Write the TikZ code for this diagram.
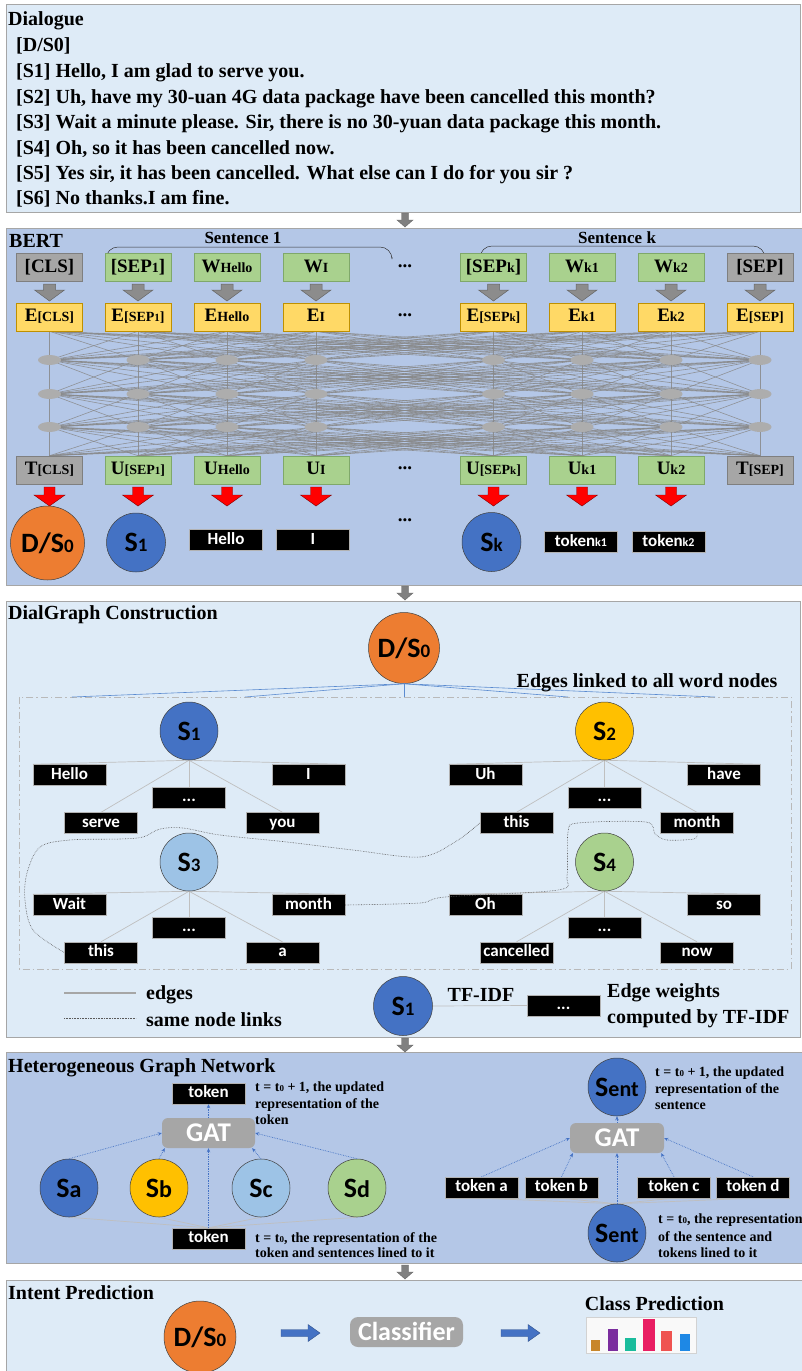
\documentclass[tikz,border=0pt]{standalone}
\usepackage{fontspec}
\setmainfont{Liberation Serif}
\newfontfamily\calib{Carlito}
\usetikzlibrary{arrows.meta,shapes.geometric}
\pgfdeclarelayer{panels}
\pgfdeclarelayer{bg}
\pgfsetlayers{panels,bg,main}
\definecolor{panelL}{HTML}{DEEBF7}
\definecolor{panelD}{HTML}{B4C7E7}
\definecolor{pborder}{HTML}{A6A6A6}
\definecolor{boxgray}{HTML}{A6A6A6}
\definecolor{boxgrayb}{HTML}{7F7F7F}
\definecolor{boxgreen}{HTML}{A9D18E}
\definecolor{boxgreenb}{HTML}{7FA86A}
\definecolor{boxyellow}{HTML}{FFD966}
\definecolor{boxyellowb}{HTML}{BF9000}
\definecolor{corange}{HTML}{ED7D31}
\definecolor{cblue}{HTML}{4472C4}
\definecolor{cgold}{HTML}{FFC000}
\definecolor{clblue}{HTML}{9DC3E6}
\definecolor{cgreen}{HTML}{A9D18E}
\definecolor{neur}{HTML}{ADADAD}
\definecolor{meshc}{HTML}{888888}
\definecolor{edgec}{HTML}{BFBFBF}
\definecolor{lineblue}{HTML}{5B8BD0}
\definecolor{arrblue}{HTML}{4472C4}
\definecolor{gatc}{HTML}{A6A6A6}
\definecolor{arrgray}{HTML}{8C8C8C}
\definecolor{arrred}{HTML}{FF0000}
\definecolor{barA}{HTML}{C8862A}
\definecolor{barB}{HTML}{7B2D9E}
\definecolor{barC}{HTML}{1ABC9C}
\definecolor{barD}{HTML}{E91E63}
\definecolor{barE}{HTML}{EF5350}
\definecolor{barF}{HTML}{1E88E5}
\newcommand\smf[1]{{\fontsize{14}{14}\selectfont #1}}
\newcommand\ssmf[1]{{\fontsize{11}{11}\selectfont #1}}
\newcommand\kmf[1]{{\fontsize{12}{12}\selectfont #1}}
\newcommand\circtxt[4]{{\fontsize{#3}{#3}\selectfont #1}{\fontsize{#4}{#4}\selectfont #2}}
\newcommand\tsub[1]{{\fontsize{9}{9}\selectfont #1}}
\begin{document}
\begin{tikzpicture}[x=1pt,y=-1pt,
 pL/.style={fill=panelL, draw=pborder, line width=0.8pt},
 pD/.style={fill=panelD, draw=pborder, line width=0.8pt},
 ttl/.style={font=\bfseries\fontsize{20}{24}\selectfont, inner sep=0, anchor=base west},
 dtxt/.style={font=\bfseries\fontsize{20}{24}\selectfont, inner sep=0, anchor=base west},
 lbl/.style={font=\bfseries\fontsize{20}{24}\selectfont, inner sep=0, anchor=base},
 senttxt/.style={font=\bfseries\fontsize{17}{20}\selectfont, inner sep=0, anchor=base},
 notetxt/.style={font=\bfseries\fontsize{14}{16}\selectfont, inner sep=0, anchor=base west},
 bbox/.style={minimum width=66, minimum height=28, inner sep=0, text height=13, text depth=4, font=\bfseries\fontsize{19}{19}\selectfont, line width=0.6pt},
 gbox/.style={bbox, fill=boxgray, draw=boxgrayb},
 grbox/.style={bbox, fill=boxgreen, draw=boxgreenb},
 ybox/.style={bbox, fill=boxyellow, draw=boxyellowb},
 wbox/.style={fill=black, text=white, draw=gray!60, line width=0.4pt, minimum width=73, minimum height=21, inner sep=0, text height=11.5, text depth=3, font={\calib\bfseries\fontsize{17}{17}\selectfont}},
 circ/.style={circle, draw=gray!50!black, line width=0.5pt, inner sep=0, text height=18, text depth=0, font=\calib\bfseries, text=black},
 neuron/.style={ellipse, fill=neur, minimum width=23, minimum height=10, inner sep=0},
 meshline/.style={draw=meshc, line width=0.6pt, opacity=0.85},
 tedge/.style={draw=edgec, line width=0.7pt},
 samelink/.style={draw=gray!70!black, densely dotted, line width=0.6pt},
 blueedge/.style={draw=lineblue, line width=0.6pt},
 dashbox/.style={draw=gray!55, line width=0.8pt, dash pattern=on 7pt off 3pt on 1.5pt off 3pt},
 gatbox/.style={rectangle, rounded corners=6, fill=gatc, text=white, font={\calib\bfseries\fontsize{27}{27}\selectfont}, minimum width=93, minimum height=30, inner sep=0, text height=17.5, text depth=0},
 darr/.style={draw=arrblue, densely dotted, line width=0.7pt, -{Stealth[length=4pt,width=3.5pt]}},
 dotstxt/.style={font=\bfseries\fontsize{19}{19}\selectfont, inner sep=0},
 grayarrow/.pic={\path[fill=arrgray, draw=black!60, line width=0.5pt] (-6,0) -- (6,0) -- (6,6) -- (15,6) -- (0,17) -- (-15,6) -- (-6,6) -- cycle;},
 redarrow/.pic={\path[fill=arrred, draw=red!50!black, line width=0.4pt] (-5.5,0) -- (5.5,0) -- (5.5,8) -- (15.5,8) -- (0,19) -- (-15.5,8) -- (-5.5,8) -- cycle;},
 smallarrow/.pic={\path[fill=gray, draw=black!60, line width=0.4pt] (-3.5,0) -- (3.5,0) -- (3.5,7) -- (8,7) -- (0,14) -- (-8,7) -- (-3.5,7) -- cycle;},
 bluearrow/.pic={\path[fill=cblue, draw=cblue!70!black, line width=0.4pt] (0,-3.5) -- (27,-3.5) -- (27,-8.5) -- (39,0) -- (27,8.5) -- (27,3.5) -- (0,3.5) -- cycle;}
]
\useasboundingbox (0,0) rectangle (802,1371);
\begin{pgfonlayer}{panels}
\fill[white] (0,0) rectangle (802,1371);
\draw[pL] (6,4) rectangle (800,212);
\draw[pD] (6,228) rectangle (803,585);
\draw[pL] (6,601) rectangle (800,1037);
\draw[pD] (6,1052) rectangle (803,1263);
\draw[pL] (6,1280) rectangle (803,1375);
\end{pgfonlayer}
\pic at (405,213) {smallarrow};
\pic at (405,586) {smallarrow};
\pic at (405,1038) {smallarrow};
\pic at (405,1265) {smallarrow};

% ---------------- Dialogue
\node[ttl] (dlgT) at (8,25) {Dialogue};
\node[dtxt] (dl0) at (16,51) {[D/S0]};
\node[dtxt] (dl1) at (16,77) {[S1] Hello, I am glad to serve you.};
\node[dtxt] (dl2) at (16,103) {[S2] Uh, have my 30-uan 4G data package have been cancelled this month?};
\node[dtxt] (dl3) at (16,128) {[S3] Wait a minute please. Sir, there is no 30-yuan data package this month.};
\node[dtxt] (dl4) at (16,154) {[S4] Oh, so it has been cancelled now.};
\node[dtxt] (dl5) at (16,179) {[S5] Yes sir, it has been cancelled. What else can I do for you sir ?};
\node[dtxt] (dl6) at (16,204) {[S6] No thanks.I am fine.};

% ---------------- BERT
\node[ttl] (bertT) at (9,247) {BERT};
\node[senttxt] (sen1) at (243,243) {Sentence 1};
\node[senttxt] (senk) at (617,243) {Sentence k};
\draw[draw=gray!40!black, line width=0.5pt, rounded corners=12] (106,257) -- (106,247) -- (392,247) -- (392,257);
\draw[draw=gray!40!black, line width=0.5pt, rounded corners=12] (480,257) -- (480,246) -- (765,246) -- (765,257);

\node[gbox]  (w1) at (49.5,267.5) {[CLS]};
\node[grbox] (w2) at (138,267.5) {[SEP\smf{1}]};
\node[grbox] (w3) at (227,267.5) {W\smf{Hello}};
\node[grbox] (w4) at (316,267.5) {W\smf{I}};
\node[grbox] (w5) at (493.5,267.5) {[SEP\smf{k}]};
\node[grbox] (w6) at (582,267.5) {W\smf{k1}};
\node[grbox] (w7) at (671,267.5) {W\smf{k2}};
\node[gbox]  (w8) at (760,267.5) {[SEP]};

\node[ybox] (e1) at (49.5,317) {E\smf{[CLS]}};
\node[ybox] (e2) at (138,317) {E\smf{[SEP\ssmf{1}]}};
\node[ybox] (e3) at (227,317) {E\smf{Hello}};
\node[ybox] (e4) at (316,317) {E\smf{I}};
\node[ybox] (e5) at (493.5,317) {E\smf{[SEP\ssmf{k}]}};
\node[ybox] (e6) at (582,317) {E\smf{k1}};
\node[ybox] (e7) at (671,317) {E\smf{k2}};
\node[ybox] (e8) at (760,317) {E\smf{[SEP]}};

\node[gbox]  (t1) at (49.5,470) {T\smf{[CLS]}};
\node[grbox] (t2) at (138,470) {U\smf{[SEP\ssmf{1}]}};
\node[grbox] (t3) at (227,470) {U\smf{Hello}};
\node[grbox] (t4) at (316,470) {U\smf{I}};
\node[grbox] (t5) at (493.5,470) {U\smf{[SEP\ssmf{k}]}};
\node[grbox] (t6) at (582,470) {U\smf{k1}};
\node[grbox] (t7) at (671,470) {U\smf{k2}};
\node[gbox]  (t8) at (760,470) {T\smf{[SEP]}};

\node[dotstxt] (bd1) at (405,266) {...};
\node[dotstxt] (bd2) at (405,315) {...};
\node[dotstxt] (bd3) at (405,468) {...};
\node[dotstxt] (bd4) at (405,520) {...};

\foreach \x in {49.5,138,227,316,493.5,582,671,760} {\pic at (\x,284) {grayarrow};}
\foreach \x in {49.5,138,227,316,493.5,582,671} {\pic at (\x,487) {redarrow};}

\foreach \i/\x in {1/49.5,2/138,3/227,4/316,5/493.5,6/582,7/671,8/760} {
  \node[neuron] (ma\i) at (\x,360) {};
  \node[neuron] (mb\i) at (\x,394) {};
  \node[neuron] (mc\i) at (\x,427) {};
}
\begin{pgfonlayer}{bg}
\foreach \i in {1,...,8} {\foreach \j in {1,...,8} {
  \draw[meshline] (e\i.south) -- (ma\j.center);
  \draw[meshline] (ma\i.center) -- (mb\j.center);
  \draw[meshline] (mb\i.center) -- (mc\j.center);
  \draw[meshline] (mc\i.center) -- (t\j.north);
}}
\end{pgfonlayer}

\node[circ, fill=corange, minimum size=74] (bds) at (47.5,543) {\circtxt{D/S}{0}{28}{19}};
\node[circ, fill=cblue, minimum size=59] (bs1) at (136,542.5) {\circtxt{S}{1}{28}{19}};
\node[wbox] (bhello) at (226,540) {Hello};
\node[wbox] (bI) at (313,540) {I};
\node[circ, fill=cblue, minimum size=59] (bsk) at (491.5,542) {\circtxt{S}{k}{28}{19}};
\node[wbox] (btk1) at (581,542) {token\kmf{k1}};
\node[wbox] (btk2) at (668.5,542) {token\kmf{k2}};

% ---------------- DialGraph
\node[ttl] (dgT) at (8,619) {DialGraph Construction};
\node[circ, fill=corange, minimum size=71] (gds) at (404,648) {\circtxt{D/S}{0}{28}{19}};
\draw[dashbox] (19,697) rectangle (791,969);
\coordinate (ge1) at (72,697);
\coordinate (ge2) at (245,697);
\coordinate (ge3) at (404,697);
\coordinate (ge4) at (568,697);
\coordinate (ge5) at (715,697);
\foreach \k in {1,...,5} {\draw[blueedge] (gds.south) -- (ge\k);}
\node[lbl] (edgelbl) at (647,687) {Edges linked to all word nodes};

% S1 tree
\node[circ, fill=cblue, minimum size=58] (g1) at (189,731) {\circtxt{S}{1}{28}{19}};
\node[wbox] (g1a) at (69.5,775) {Hello};
\node[wbox] (g1b) at (189,797.5) {...};
\node[wbox] (g1c) at (308.5,775) {I};
\node[wbox] (g1d) at (101,823) {serve};
\node[wbox] (g1e) at (282.5,823) {you};
% S2 tree
\node[circ, fill=cgold, minimum size=58] (g2) at (604.5,731) {\circtxt{S}{2}{28}{19}};
\node[wbox] (g2a) at (485.5,775) {Uh};
\node[wbox] (g2b) at (604.5,797.5) {...};
\node[wbox] (g2c) at (724,775) {have};
\node[wbox] (g2d) at (516.5,823) {this};
\node[wbox] (g2e) at (697,823) {month};
% S3 tree
\node[circ, fill=clblue, minimum size=58] (g3) at (189,862) {\circtxt{S}{3}{28}{19}};
\node[wbox] (g3a) at (69.5,905) {Wait};
\node[wbox] (g3b) at (189,927.5) {...};
\node[wbox] (g3c) at (308.5,905) {month};
\node[wbox] (g3d) at (101,952.5) {this};
\node[wbox] (g3e) at (282.5,952.5) {a};
% S4 tree
\node[circ, fill=cgreen, minimum size=58] (g4) at (604.5,862) {\circtxt{S}{4}{28}{19}};
\node[wbox] (g4a) at (485.5,905) {Oh};
\node[wbox] (g4b) at (604.5,927.5) {...};
\node[wbox] (g4c) at (724,905) {so};
\node[wbox] (g4d) at (516.5,952.5) {cancelled};
\node[wbox] (g4e) at (697,952.5) {now};
\begin{pgfonlayer}{bg}
\foreach \s in {1,2,3,4} {
  \draw[tedge] (g\s.south) -- (g\s a.north west);
  \draw[tedge] (g\s.south) -- (g\s c.north east);
  \draw[tedge] (g\s.south) -- (g\s b.north);
  \draw[tedge] (g\s.south) -- (g\s d.north);
  \draw[tedge] (g\s.south) -- (g\s e.north);
}
\end{pgfonlayer}
\draw[samelink] plot[smooth, tension=0.55] coordinates {(g2d.west) (455,842) (420,857) (353,850) (287,842) (220,835) (183,828) (160,829) (143,837) (120,839) (70,840) (40,847) (27,873) (25,900) (33,930) (g3d.west)};
\draw[samelink] plot[smooth, tension=0.5] coordinates {(g3c.east) (420,903) (445,897) (558,890) (567,876) (568,832) (578,823) (646,822) (655,834) (667,840) (694,839) (g2e.south)};

% legend
\draw[draw=pborder, line width=2.5pt] (64,993) -- (136,993);
\draw[samelink] (64,1018) -- (136,1018);
\node[dtxt] (lg1) at (146,999) {edges};
\node[dtxt] (lg2) at (146,1026) {same node links};
\node[circ, fill=cblue, minimum size=59] (lgs) at (403,1006) {\circtxt{S}{1}{28}{19}};
\node[wbox] (lgd) at (563.5,1005.5) {...};
\draw[tedge] (lgs.east) -- (lgd.west);
\node[lbl] (tfidf) at (481,1001) {TF-IDF};
\node[dtxt] (ew1) at (607,997) {Edge weights};
\node[dtxt] (ew2) at (607,1023) {computed by TF-IDF};

% ---------------- HGN
\node[ttl] (hgT) at (8,1072) {Heterogeneous Graph Network};
\node[wbox] (htokT) at (208.5,1093.5) {token};
\node[gatbox] (hgatL) at (208.5,1133) {GAT};
\node[circ, fill=cblue, minimum size=58] (hsa) at (69,1188) {\circtxt{S}{a}{28}{24}};
\node[circ, fill=cgold, minimum size=58] (hsb) at (159,1188) {\circtxt{S}{b}{28}{24}};
\node[circ, fill=clblue, minimum size=58] (hsc) at (261,1188) {\circtxt{S}{c}{28}{24}};
\node[circ, fill=cgreen, minimum size=58] (hsd) at (357,1188) {\circtxt{S}{d}{28}{24}};
\node[wbox] (htokB) at (208.5,1238.5) {token};
\begin{pgfonlayer}{bg}
\foreach \n in {hsa,hsb,hsc,hsd} {\draw[tedge] (\n.south) -- (htokB.north);}
\end{pgfonlayer}
\draw[darr] (hsa.north) -- (hgatL.west);
\draw[darr] (hsb.north) -- ([xshift=3]hgatL.south west);
\draw[darr] (hsc.north) -- ([xshift=-3]hgatL.south east);
\draw[darr] (hsd.north) -- (hgatL.east);
\draw[darr] (htokB.north) -- (hgatL.south);
\draw[darr] (hgatL.north) -- (htokT.south);
\node[notetxt] (hn1) at (255,1091) {t = t\tsub{0} + 1, the updated};
\node[notetxt] (hn2) at (255,1108) {representation of the};
\node[notetxt] (hn3) at (255,1124) {token};
\node[notetxt] (hn4) at (255,1242) {t = t\tsub{0}, the representation of the};
\node[notetxt] (hn5) at (255,1257) {token and sentences lined to it};

\node[circ, fill=cblue, minimum size=58] (hsT) at (617,1087) {\circtxt{S}{ent}{28}{22}};
\node[gatbox, minimum width=94] (hgatR) at (617,1138) {GAT};
\node[wbox] (hta) at (481.5,1187.5) {token a};
\node[wbox] (htb) at (561.5,1187.5) {token b};
\node[wbox] (htc) at (674,1187.5) {token c};
\node[wbox] (htd) at (753,1187.5) {token d};
\node[circ, fill=cblue, minimum size=58] (hsB) at (617,1233) {\circtxt{S}{ent}{28}{22}};
\begin{pgfonlayer}{bg}
\foreach \n in {hta,htb,htc,htd} {\draw[tedge] (\n.south) -- (hsB.north);}
\end{pgfonlayer}
\draw[darr] (hta.north) -- (hgatR.west);
\draw[darr] (htb.north) -- ([xshift=3]hgatR.south west);
\draw[darr] (htc.north) -- ([xshift=-3]hgatR.south east);
\draw[darr] (htd.north) -- (hgatR.east);
\draw[darr] (hsB.north) -- (hgatR.south);
\draw[darr] (hgatR.north) -- (hsT.south);
\node[notetxt] (hr1) at (655,1076) {t = t\tsub{0} + 1, the updated};
\node[notetxt] (hr2) at (655,1093) {representation of the};
\node[notetxt] (hr3) at (655,1109) {sentence};
\node[notetxt] (hr4) at (658,1223) {t = t\tsub{0}, the representation};
\node[notetxt] (hr5) at (658,1241) {of the sentence and};
\node[notetxt] (hr6) at (658,1257) {tokens lined to it};

% ---------------- Intent Prediction
\node[ttl] (ipT) at (8,1299) {Intent Prediction};
\node[circ, fill=corange, minimum size=72] (ids) at (200,1337) {\circtxt{D/S}{0}{28}{19}};
\pic at (281,1333) {bluearrow};
\node[gatbox, minimum width=113, rounded corners=8, font={\calib\bfseries\fontsize{26}{26}\selectfont}] (iclf) at (406.5,1332) {Classifier};
\pic at (501,1333) {bluearrow};
\node[lbl] (icp) at (654.5,1310) {Class Prediction};
\draw[draw=gray!35, fill=white!95!gray, line width=0.6pt] (586,1317) rectangle (696,1353);
\fill[barA] (591,1340) rectangle (600,1351);
\fill[barB] (608,1329) rectangle (618,1351);
\fill[barC] (625,1338) rectangle (636,1351);
\fill[barD] (643,1319) rectangle (655,1351);
\fill[barE] (661,1331) rectangle (672,1351);
\fill[barF] (680,1334) rectangle (690,1351);
\end{tikzpicture}
\end{document}
